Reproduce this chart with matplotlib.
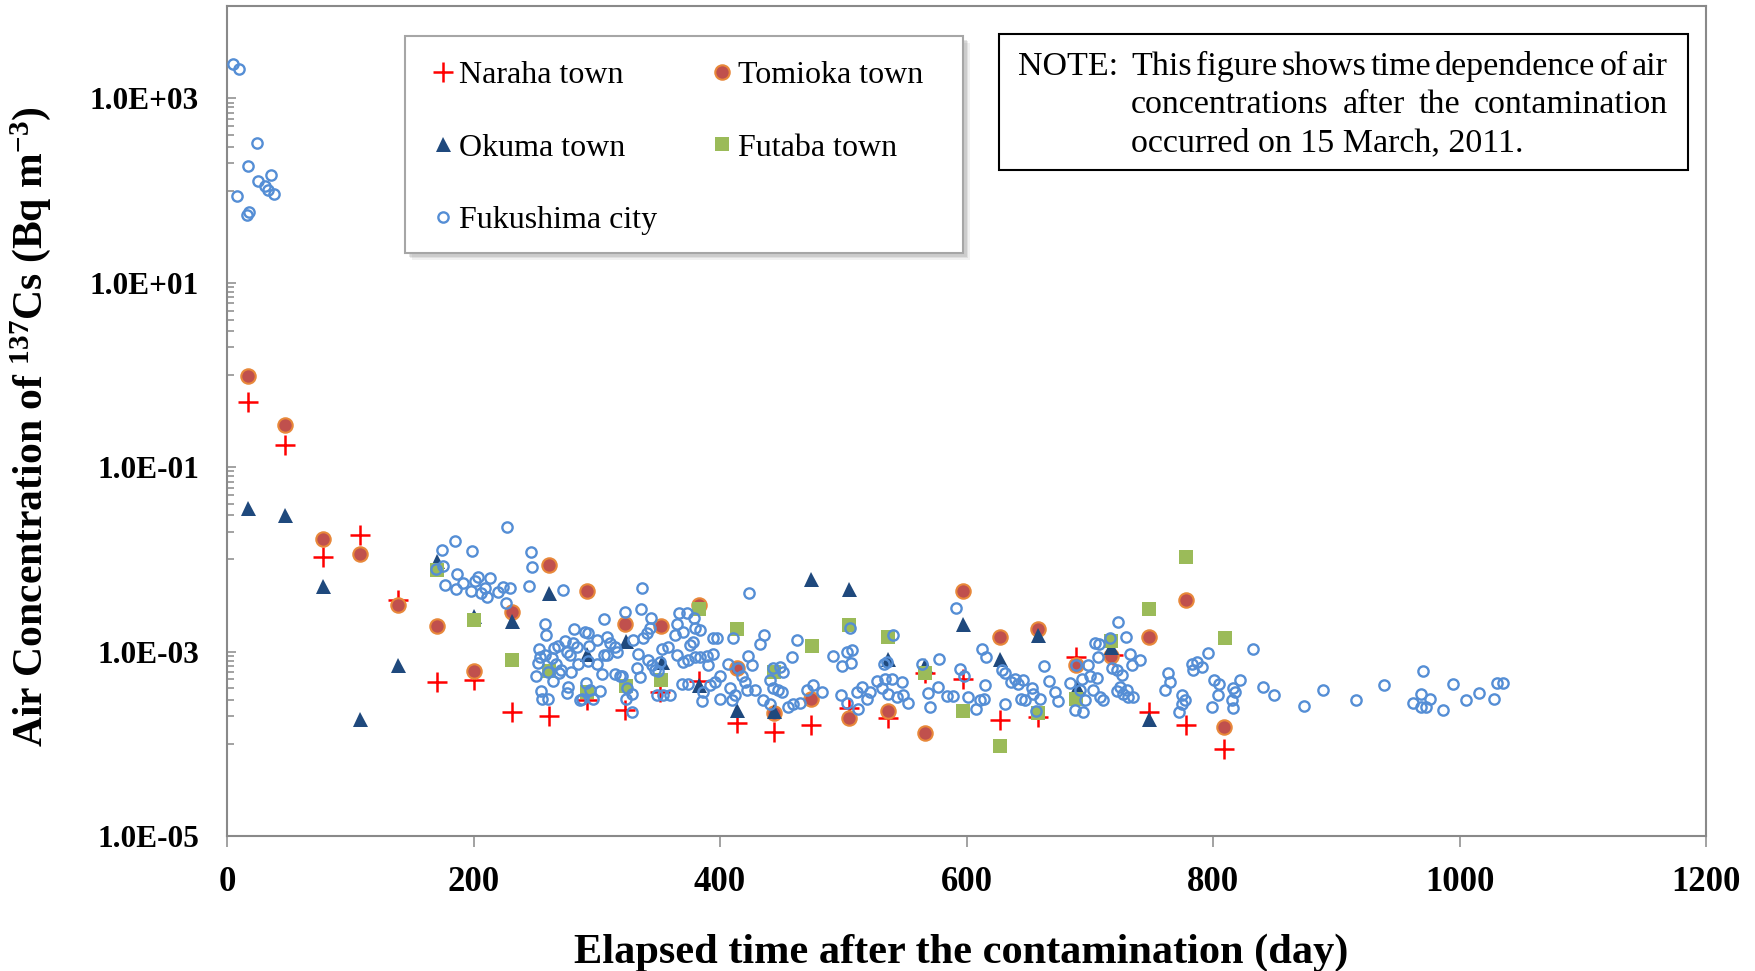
import matplotlib
matplotlib.use("Agg")
import matplotlib.pyplot as plt
from matplotlib.ticker import FixedLocator, FuncFormatter, NullFormatter
from matplotlib.patches import Rectangle
from matplotlib.lines import Line2D

plt.rcParams['font.family'] = ['Liberation Serif', 'DejaVu Serif']
plt.rcParams['mathtext.fontset'] = 'custom'
plt.rcParams['mathtext.rm'] = 'Liberation Serif'
plt.rcParams['mathtext.bf'] = 'Liberation Serif:bold'
plt.rcParams['mathtext.it'] = 'Liberation Serif:italic'

# ---------------- data (day, concentration Bq/m3) ----------------
naraha_day = [17, 47, 78, 108, 139, 170, 200, 231, 261, 292, 323, 351, 383, 414, 444, 474,
              505, 536, 566, 597, 627, 658, 689, 719, 748, 778, 809]
naraha_val = [0.51, 0.175, 0.0105, 0.0186, 0.0036, 4.7e-4, 4.9e-4, 2.2e-4, 2.0e-4, 3.0e-4,
              2.34e-4, 3.65e-4, 4.8e-4, 1.69e-4, 1.34e-4, 1.58e-4, 2.45e-4, 1.9e-4, 5.9e-4,
              5.1e-4, 1.8e-4, 1.95e-4, 8.8e-4, 9.2e-4, 2.2e-4, 1.61e-4, 8.8e-5]

tomioka_day = [17, 47, 78, 108, 139, 170, 200, 231, 261, 292, 323, 352, 383, 414, 444, 474,
               505, 536, 566, 597, 627, 658, 689, 717, 748, 778, 809]
tomioka_val = [0.98, 0.284, 0.0165, 0.0115, 0.00324, 0.00191, 6.1e-4, 2.67e-3, 8.6e-3, 4.5e-3,
               2.0e-3, 1.91e-3, 3.2e-3, 6.7e-4, 2.17e-4, 3.1e-4, 1.9e-4, 2.25e-4, 1.32e-4,
               4.5e-3, 1.44e-3, 1.74e-3, 7.2e-4, 9.0e-4, 1.45e-3, 3.64e-3, 1.52e-4]

okuma_day = [17, 47, 78, 108, 139, 170, 200, 231, 261, 292, 324, 353, 383, 414, 444, 474,
             505, 536, 566, 597, 627, 658, 690, 717, 748]
okuma_val = [0.0362, 0.0302, 5.1e-3, 1.84e-4, 7.1e-4, 9.5e-3, 2.45e-3, 2.15e-3, 4.3e-3, 9.4e-4,
             1.3e-3, 7.7e-4, 4.3e-4, 2.34e-4, 2.25e-4, 6.1e-3, 4.75e-3, 8.3e-4, 7.2e-4,
             1.98e-3, 8.4e-4, 1.51e-3, 4.1e-4, 1.13e-3, 1.84e-4]

futaba_day = [170, 200, 231, 261, 292, 324, 352, 383, 414, 444, 475, 505, 536, 566, 597, 627,
              658, 689, 717, 748, 778, 810]
futaba_val = [7.7e-3, 2.18e-3, 8.2e-4, 6.1e-4, 3.65e-4, 4.25e-4, 4.9e-4, 2.9e-3, 1.74e-3, 6.0e-4,
              1.14e-3, 1.95e-3, 1.43e-3, 5.8e-4, 2.29e-4, 9.4e-5, 2.17e-4, 3.1e-4, 1.31e-3,
              2.9e-3, 1.05e-2, 1.42e-3]

fukushima_day = [
    4.6, 10.0, 24.1, 16.8, 35.7, 24.9, 31.1, 33.5, 37.9, 7.9, 18.1, 16.0,
    226.9, 184.7, 174.2, 199.1, 246.7, 175.5, 247.7, 169.6, 186.9, 203.6, 213.1, 201.5, 177.1,
    191.2, 185.8, 198.0, 209.3, 206.4, 211.0, 220.1, 224.2, 229.6, 244.8, 226.1, 272.9, 258.0,
    259.1, 305.6, 281.3, 290.5, 292.9, 274.2, 281.0, 284.0, 253.4, 265.6, 268.3, 275.6, 278.0,
    294.0, 299.9, 308.0, 310.7, 314.8, 316.2, 254.0, 252.1, 257.7, 263.7, 267.2, 284.5, 293.2,
    299.9, 306.2, 304.0, 250.7, 260.2, 264.8, 269.4, 278.8, 314.8, 276.7, 275.9, 291.0, 302.6,
    255.0, 255.8, 260.7, 286.4, 297.2, 318.9, 288.3, 294.5, 308.0, 270.7,
    322.9, 336.4, 335.9, 343.7, 343.2, 340.5, 337.8, 329.7, 333.7, 341.9, 344.6, 347.3, 351.3,
    352.7, 358.1, 350.0, 332.4, 335.1, 320.2, 324.3, 328.3, 328.3, 323.7, 348.6, 354.0, 359.4,
    368.9, 374.3, 364.8, 370.2, 374.3, 379.7, 383.8, 389.2, 394.6, 390.5, 366.7, 373.0, 379.2,
    364.8, 370.2, 379.7, 383.8, 363.5, 375.7, 378.4, 394.1, 397.8, 410.8, 406.7, 400.0, 395.9,
    391.9, 386.5, 385.1, 400.0, 408.1, 409.5, 412.2, 414.9, 417.6, 420.3, 423.0, 425.7, 421.6,
    428.4, 435.2, 432.5, 436.0, 443.3, 448.7, 451.4, 440.6, 443.3, 447.3, 450.0, 440.6, 462.2,
    458.1, 455.4, 459.5, 464.9, 470.3, 475.7, 482.5, 492.0, 502.8, 506.8, 499.0, 506.0, 498.2,
    502.8, 512.2, 510.9, 514.9, 521.7, 519.0, 527.1, 533.9, 539.3, 531.2, 536.6, 540.6, 533.1,
    535.2, 543.3, 548.7, 552.8, 547.4, 563.6, 577.7, 569.0, 570.4, 577.1, 583.9, 589.3, 591.2,
    594.7, 598.0, 601.5, 612.9, 615.6, 615.0, 607.7, 611.0, 614.5, 423.8, 505.2,
    628.5, 631.2, 635.8, 639.4, 642.1, 646.1, 644.0, 647.5, 652.9, 654.2, 659.6, 631.2, 656.4,
    663.2, 667.2, 671.8, 674.5, 684.0, 688.0, 694.8, 688.8, 696.2, 698.9, 700.2, 705.6, 693.4,
    692.1, 704.3, 707.8, 707.0, 716.4, 723.2, 729.1, 732.7, 734.0, 740.8, 717.8, 721.8, 725.9,
    724.5, 721.8, 730.0, 727.3, 731.3, 735.4, 702.9, 708.3, 711.0, 763.2, 765.2, 761.0, 774.5,
    777.3, 774.5, 772.3, 782.7, 786.8, 790.8, 784.1, 796.2, 801.2, 805.2, 804.3, 799.0, 816.5,
    817.8, 821.9, 815.1, 815.9, 832.2, 840.3, 849.8, 874.1, 889.0, 916.0, 939.0, 970.1, 962.5,
    968.5, 972.8, 969.0, 976.1, 986.9, 995.0, 1005.0, 1016.2, 1028.3, 1030.7, 1035.0]
fukushima_val = [
    2370, 2070, 332, 187, 149, 127, 113, 102, 93, 88, 59, 54,
    0.0223, 0.016, 0.0126, 0.0122, 0.0121, 0.0084, 0.0083, 0.0079, 0.0070, 0.0065, 0.0063,
    0.0059, 0.0053, 0.0055, 0.00475, 0.00456, 0.00495, 0.0043, 0.0039, 0.0044, 0.0050, 0.00495,
    0.0051, 0.00337, 0.00468, 0.00198, 0.00151, 0.00228, 0.00176, 0.00164, 0.00158, 0.0013,
    0.00123, 0.00113, 0.00106, 0.0011, 0.00116, 0.00099, 0.00092, 0.00116, 0.00133, 0.00145,
    0.00123, 0.00113, 0.0010, 0.00088, 0.00076, 0.00093, 0.00086, 0.00074, 0.00074, 0.00079,
    0.00074, 0.00092, 0.00057, 0.00055, 0.0006, 0.00048, 0.00058, 0.0006, 0.00057, 0.00041,
    0.00036, 0.00046, 0.00037, 0.00037, 0.00031, 0.00031, 0.0003, 0.00031, 5.5e-4, 3.1e-4,
    3.8e-4, 9.3e-4, 6.3e-4,
    2.7e-3, 4.9e-3, 2.9e-3, 2.3e-3, 1.8e-3, 1.6e-3, 1.4e-3, 1.33e-3, 9.5e-4, 8.1e-4, 7.1e-4,
    6.3e-4, 7.7e-4, 1.08e-3, 1.11e-3, 6.2e-4, 6.6e-4, 5.3e-4, 5.5e-4, 4.0e-4, 3.5e-4, 2.2e-4,
    3.1e-4, 3.4e-4, 3.4e-4, 3.4e-4, 4.4e-4, 4.5e-4, 9.2e-4, 7.7e-4, 8.1e-4, 8.8e-4, 8.8e-4,
    8.9e-4, 9.5e-4, 7.1e-4, 2.65e-3, 2.6e-3, 2.3e-3, 2.0e-3, 1.64e-3, 1.79e-3, 1.71e-3, 1.51e-3,
    1.18e-3, 1.28e-3, 1.42e-3, 1.39e-3, 1.39e-3, 7.4e-4, 5.5e-4, 4.7e-4, 4.3e-4, 3.65e-4, 2.9e-4,
    3.1e-4, 4.0e-4, 3.0e-4, 3.4e-4, 6.6e-4, 5.5e-4, 4.7e-4, 8.9e-4, 7.2e-4, 3.8e-4, 3.8e-4,
    3.0e-4, 1.21e-3, 1.51e-3, 6.6e-4, 6.8e-4, 6.0e-4, 4.9e-4, 4.0e-4, 3.8e-4, 3.65e-4, 2.7e-4,
    1.33e-3, 8.8e-4, 2.5e-4, 2.7e-4, 2.8e-4, 3.8e-4, 4.3e-4, 3.65e-4, 8.9e-4, 1.0e-3, 1.04e-3,
    6.95e-4, 7.6e-4, 3.4e-4, 2.8e-4, 2.4e-4, 3.65e-4, 4.1e-4, 3.65e-4, 3.1e-4, 4.8e-4, 5.1e-4,
    5.1e-4, 4.0e-4, 3.5e-4, 1.51e-3, 7.4e-4, 7.7e-4, 3.2e-4, 3.4e-4, 2.8e-4, 4.7e-4, 7.4e-4,
    8.3e-4, 3.6e-4, 2.5e-4, 4.1e-4, 3.3e-4, 3.3e-4, 3.0e-3, 6.4e-4, 5.5e-4, 3.2e-4, 1.08e-3,
    8.8e-4, 4.3e-4, 2.4e-4, 3.0e-4, 3.1e-4, 4.3e-3, 1.8e-3,
    6.3e-4, 5.8e-4, 4.7e-4, 5.1e-4, 4.5e-4, 4.9e-4, 3.1e-4, 3.0e-4, 4.0e-4, 3.5e-4, 3.1e-4,
    2.7e-4, 2.25e-4, 7.0e-4, 4.8e-4, 3.65e-4, 2.9e-4, 4.6e-4, 2.35e-4, 2.2e-4, 7.2e-4, 3.0e-4,
    7.1e-4, 5.5e-4, 5.2e-4, 5.1e-4, 3.8e-4, 1.25e-3, 1.2e-3, 8.8e-4, 1.39e-3, 2.1e-3, 1.45e-3,
    9.5e-4, 7.2e-4, 8.2e-4, 6.6e-4, 6.3e-4, 5.6e-4, 4.1e-4, 3.7e-4, 3.8e-4, 3.5e-4, 3.2e-4,
    3.2e-4, 3.8e-4, 3.2e-4, 3.0e-4, 5.8e-4, 4.7e-4, 3.8e-4, 3.4e-4, 3.0e-4, 2.7e-4, 2.2e-4,
    7.4e-4, 7.7e-4, 6.8e-4, 6.3e-4, 9.7e-4, 4.9e-4, 4.5e-4, 3.4e-4, 2.5e-4, 4.0e-4, 3.65e-4,
    4.9e-4, 3.0e-4, 2.45e-4, 1.06e-3, 4.1e-4, 3.4e-4, 2.6e-4, 3.8e-4, 3.0e-4, 4.3e-4, 6.2e-4,
    2.8e-4, 2.5e-4, 2.5e-4, 3.5e-4, 3.1e-4, 2.3e-4, 4.4e-4, 3.0e-4, 3.6e-4, 3.1e-4, 4.6e-4,
    4.6e-4]

series_labels = ["Naraha town", "Tomioka town", "Okuma town", "Futaba town", "Fukushima city"]
x_ticks = [0, 200, 400, 600, 800, 1000, 1200]
y_major = [1e-5, 1e-3, 1e-1, 1e1, 1e3]

x_title = "Elapsed time after the contamination (day)"
y_title = r"Air Concentration of $\mathbf{^{137}}$Cs (Bq m$\mathbf{^{-3}}$)"
note_lines = ["This figure shows time dependence of air",
              "concentrations after the contamination",
              "occurred on 15 March, 2011."]

# ---------------- figure ----------------
W, H, DPI = 1756, 971, 100
fig = plt.figure(figsize=(W / DPI, H / DPI), dpi=DPI)
ax = fig.add_axes([227 / W, 1 - 836 / H, (1706 - 227) / W, (836 - 6.3) / H])

GRAY = '#898989'
c_nar, c_tom_f, c_tom_e = '#FF0000', '#C0504D', '#E8883A'
c_oku, c_fut, c_fuk = '#1F497D', '#9BBB59', '#558ED5'

st_nar = dict(ls='none', marker='+', ms=14, mew=1.8, color=c_nar)
st_tom = dict(ls='none', marker='o', ms=10.4, mew=1.5, mfc=c_tom_f, mec=c_tom_e)
st_oku = dict(ls='none', marker='^', ms=10.8, mew=0, color=c_oku)
st_fut = dict(ls='none', marker='s', ms=10.4, mew=0, color=c_fut)
st_fuk = dict(ls='none', marker='o', ms=7.4, mew=1.7, mfc='none', mec=c_fuk)

ax.plot(naraha_day, naraha_val, zorder=3, **st_nar)
ax.plot(tomioka_day, tomioka_val, zorder=4, **st_tom)
ax.plot(okuma_day, okuma_val, zorder=5, **st_oku)
ax.plot(futaba_day, futaba_val, zorder=6, **st_fut)
ax.plot(fukushima_day, fukushima_val, zorder=7, clip_on=False, **st_fuk)

ax.set_yscale('log')
ax.set_xlim(0, 1200)
ax.set_ylim(1e-5, 1e4)
ax.xaxis.set_major_locator(FixedLocator(x_ticks))
ax.yaxis.set_major_locator(FixedLocator(y_major))
ax.yaxis.set_minor_locator(FixedLocator([k * 10.0 ** n for n in (-4, -2, 0, 2) for k in range(1, 10)]))
ax.yaxis.set_major_formatter(FuncFormatter(lambda v, p: f"{v:.1E}"))
ax.yaxis.set_minor_formatter(NullFormatter())

for s in ax.spines.values():
    s.set_color(GRAY)
    s.set_linewidth(1.5)

ax.tick_params(axis='x', which='major', direction='out', length=8, width=1.1, color=GRAY,
               pad=13.5, labelsize=25)
ax.tick_params(axis='y', which='major', direction='in', length=6.7, width=1.1, color=GRAY,
               pad=20, labelsize=22.5)
ax.tick_params(axis='y', which='minor', direction='in', length=4.8, width=1.1, color=GRAY)
for lab in ax.get_xticklabels() + ax.get_yticklabels():
    lab.set_fontweight('bold')

fig.text(961.5 / W, 1 - 953 / H, x_title, ha='center', va='center', fontsize=30.5,
         fontweight='bold')
fig.text(31 / W, 1 - 427 / H, y_title, ha='center', va='center', rotation=90, fontsize=30,
         fontweight='bold')

# ---------------- legend box with shadow ----------------
lx0, ly0, lx1, ly1 = 405, 36, 963, 253
for off, a in [(7, 0.10), (5.5, 0.15), (4, 0.2)]:
    fig.patches.append(Rectangle(((lx0 + off) / W, 1 - (ly1 + off) / H), (lx1 - lx0) / W,
                                 (ly1 - ly0) / H, transform=fig.transFigure,
                                 facecolor='#7F7F7F', edgecolor='none', alpha=a, zorder=1))
fig.patches.append(Rectangle((lx0 / W, 1 - ly1 / H), (lx1 - lx0) / W, (ly1 - ly0) / H,
                             transform=fig.transFigure, facecolor='white', edgecolor='#A6A6A6',
                             linewidth=1.5, zorder=2))

handles = [Line2D([], [], **st_nar), Line2D([], [], **st_oku), Line2D([], [], **st_fuk),
           Line2D([], [], **st_tom), Line2D([], [], **st_fut)]
labels = [series_labels[0], series_labels[2], series_labels[4], series_labels[1], series_labels[3]]
leg = fig.legend(handles, labels, loc='upper left', bbox_to_anchor=(433 / W, 1 - 61 / H),
                 bbox_transform=fig.transFigure, ncol=2, frameon=False, borderpad=0,
                 borderaxespad=0, handlelength=0.6, handletextpad=0.2, columnspacing=1.75,
                 labelspacing=1.34, fontsize=23)
leg.set_zorder(3)

# ---------------- note box ----------------
nx0, ny0, nx1, ny1 = 999, 34, 1688, 170
fig.patches.append(Rectangle((nx0 / W, 1 - ny1 / H), (nx1 - nx0) / W, (ny1 - ny0) / H,
                             transform=fig.transFigure, facecolor='white', edgecolor='black',
                             linewidth=1.5, zorder=2))
NOTE_FS = 24.5
base_y = [75, 113, 151]
fig.text(1018 / W, 1 - base_y[0] / H, "NOTE:", ha='left', va='baseline', fontsize=NOTE_FS,
         zorder=3)
renderer = fig.canvas.get_renderer()


def justify(line, y_px, x0_px, x1_px):
    words = line.split()
    texts = [fig.text(0, 1 - y_px / H, w, ha='left', va='baseline', fontsize=NOTE_FS, zorder=3)
             for w in words]
    widths = [t.get_window_extent(renderer).width for t in texts]
    gap = ((x1_px - x0_px) - sum(widths)) / (len(words) - 1)
    x = x0_px
    for t, wd in zip(texts, widths):
        t.set_x(x / W)
        x += wd + gap


justify(note_lines[0], base_y[0], 1131, 1668)
justify(note_lines[1], base_y[1], 1131, 1668)
fig.text(1131 / W, 1 - base_y[2] / H, note_lines[2], ha='left', va='baseline', fontsize=NOTE_FS,
         zorder=3)

fig.savefig('out.png', dpi=DPI)
